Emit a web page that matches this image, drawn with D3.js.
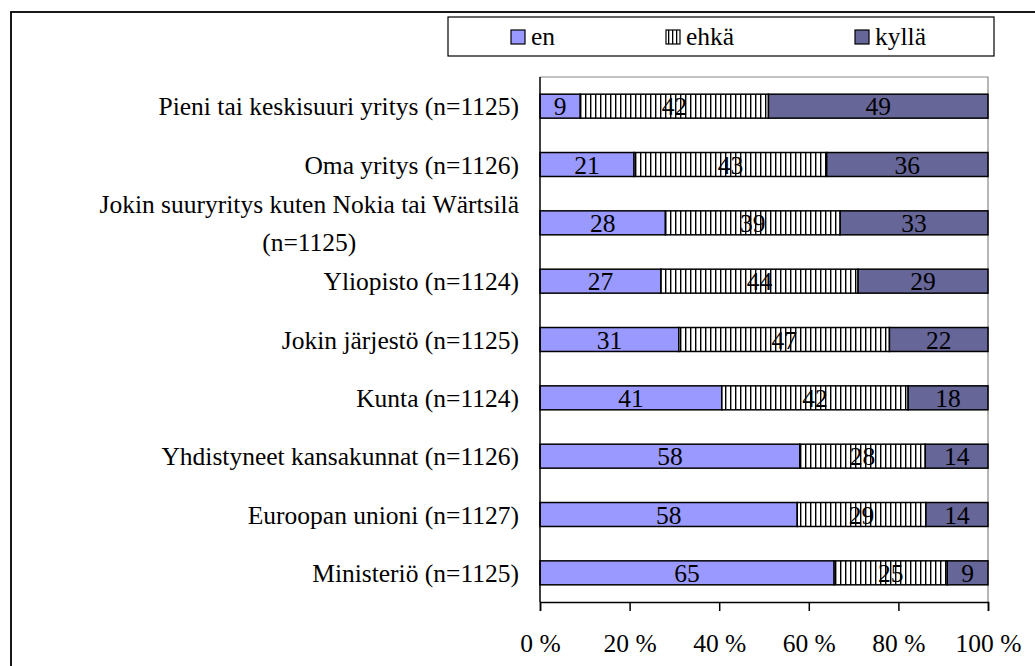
<!DOCTYPE html>
<html><head><meta charset="utf-8">
<script src="https://cdn.jsdelivr.net/npm/d3@7"></script>
<style>
body{margin:0;background:#fff;}
svg text{font-family:"Liberation Serif","Times New Roman",serif !important;fill:#000;}
</style>
</head><body>
<svg id="chart" width="1035" height="666" font-family="Liberation Serif, serif"></svg>
<script>
const categories = [
  "Pieni tai keskisuuri yritys (n=1125)",
  "Oma yritys (n=1126)",
  "Jokin suuryritys kuten Nokia tai Wärtsilä\n(n=1125)",
  "Yliopisto (n=1124)",
  "Jokin järjestö (n=1125)",
  "Kunta (n=1124)",
  "Yhdistyneet kansakunnat (n=1126)",
  "Euroopan unioni (n=1127)",
  "Ministeriö (n=1125)"
];
const seriesNames = ["en", "ehkä", "kyllä"];
const enValues    = [9, 21, 28, 27, 31, 41, 58, 58, 65];
const ehkaValues  = [42, 43, 39, 44, 47, 42, 28, 29, 25];
const kyllaValues = [49, 36, 33, 29, 22, 18, 14, 14, 9];
const tickValues = [0, 0.2, 0.4, 0.6, 0.8, 1];
const tickLabels = ["0 %", "20 %", "40 %", "60 %", "80 %", "100 %"];

const FS = 25.5;
const FONT = '"Liberation Serif", "Times New Roman", serif';
const svg = d3.select("#chart");
const colors = {"en": "#9999FF", "ehkä": "url(#hatch)", "kyllä": "#666699"};

const defs = svg.append("defs");
const pat = defs.append("pattern").attr("id", "hatch")
  .attr("patternUnits", "userSpaceOnUse").attr("width", 5).attr("height", 10);
pat.append("rect").attr("width", 5).attr("height", 10).attr("fill", "#fff");
pat.append("rect").attr("x", 0).attr("width", 1.4).attr("height", 10).attr("fill", "#000");
const pat2 = defs.append("pattern").attr("id", "hatchSmall")
  .attr("patternUnits", "userSpaceOnUse").attr("width", 4).attr("height", 10);
pat2.append("rect").attr("width", 4).attr("height", 10).attr("fill", "#fff");
pat2.append("rect").attr("x", 0).attr("width", 1.3).attr("height", 10).attr("fill", "#000");

svg.append("rect").attr("width", 1035).attr("height", 666).attr("fill", "#fff");
// outer chart border
svg.append("rect").attr("x", 11).attr("y", 12).attr("width", 1100).attr("height", 800)
  .attr("fill", "none").attr("stroke", "#000").attr("stroke-width", 1.8);

const rows = categories.map((c, i) => ({cat: c, "en": enValues[i], "ehkä": ehkaValues[i], "kyllä": kyllaValues[i]}));
const stacked = d3.stack().keys(seriesNames).offset(d3.stackOffsetExpand)(rows);

const x = d3.scaleLinear().domain([0, 1]).range([540, 988]);
const y = d3.scaleBand().domain(categories).range([77, 602]).paddingInner(0.589).paddingOuter(0.2945);

// plot area frame (gray top/right)
svg.append("path").attr("d", `M${x(0)},77H${x(1)}V602`).attr("fill", "none").attr("stroke", "#888").attr("stroke-width", 1.2);

// bars
const g = svg.append("g");
stacked.forEach(layer => {
  g.selectAll(null).data(layer).join("rect")
    .attr("x", d => x(d[0])).attr("width", d => x(d[1]) - x(d[0]))
    .attr("y", d => y(d.data.cat)).attr("height", y.bandwidth())
    .attr("fill", colors[layer.key]).attr("stroke", "#000").attr("stroke-width", 1.5);
});
stacked.forEach(layer => {
  g.selectAll(null).data(layer).join("text")
    .attr("x", d => (x(d[0]) + x(d[1])) / 2)
    .attr("y", d => y(d.data.cat) + y.bandwidth() / 2 + 9)
    .attr("text-anchor", "middle").attr("font-size", FS).attr("font-family", FONT)
    .text(d => d.data[layer.key]);
});

// x axis
const xAxis = svg.append("g").attr("transform", "translate(0,602)")
  .call(d3.axisBottom(x).tickValues(tickValues).tickSize(9).tickFormat((d, i) => tickLabels[i]));
xAxis.attr("font-family", FONT);
xAxis.select(".domain").attr("stroke", "#000").attr("stroke-width", 1.5);
xAxis.selectAll(".tick line").attr("stroke", "#000").attr("stroke-width", 1.5);
xAxis.selectAll(".tick text").attr("font-size", FS).attr("font-family", FONT)
  .attr("y", 0).attr("dy", 0).attr("transform", "translate(0,50)");

// y axis line
svg.append("line").attr("x1", x(0)).attr("x2", x(0)).attr("y1", 77).attr("y2", 602)
  .attr("stroke", "#000").attr("stroke-width", 1.5);

// category labels
const labelRight = 519;
categories.forEach(c => {
  const lines = c.split("\n");
  const cy = y(c) + y.bandwidth() / 2;
  if (lines.length === 1) {
    svg.append("text").attr("x", labelRight).attr("y", cy + 9)
      .attr("text-anchor", "end").attr("font-size", FS).attr("font-family", FONT).text(c);
  } else {
    const t = svg.append("text").attr("font-size", FS).attr("font-family", FONT).attr("text-anchor", "middle");
    const lh = 38;
    const tsp = lines.map((l, k) => t.append("tspan").attr("y", cy + 9 + (k - (lines.length - 1) / 2) * lh).text(l));
    const w = d3.max(tsp, s => s.node().getComputedTextLength());
    tsp.forEach(s => s.attr("x", labelRight - w / 2));
  }
});

// legend
svg.append("rect").attr("x", 448).attr("y", 17).attr("width", 546).attr("height", 39)
  .attr("fill", "#fff").attr("stroke", "#000").attr("stroke-width", 1.2);
const legendX = [511, 666, 855];
const legendFill = {"en": "#9999FF", "ehkä": "url(#hatchSmall)", "kyllä": "#666699"};
seriesNames.forEach((s, i) => {
  svg.append("rect").attr("x", legendX[i]).attr("y", 30).attr("width", 14).attr("height", 14)
    .attr("fill", legendFill[s]).attr("stroke", "#000").attr("stroke-width", 1.2);
  svg.append("text").attr("x", legendX[i] + 20).attr("y", 45).attr("font-size", FS).attr("font-family", FONT).text(s);
});
</script>
</body></html>
